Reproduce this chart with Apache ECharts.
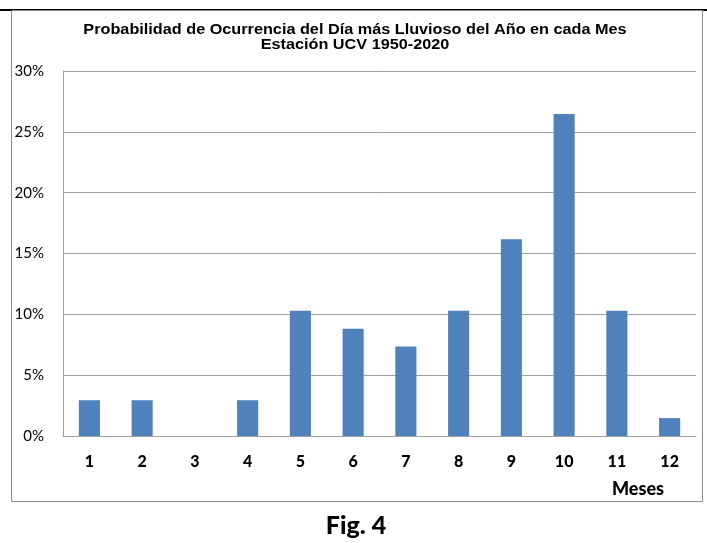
<!DOCTYPE html>
<html>
<head>
<meta charset="utf-8">
<script src="https://cdn.jsdelivr.net/npm/echarts@6/dist/echarts.min.js"></script>
<style>
  html, body { margin: 0; padding: 0; background: #fff; }
  #main { width: 707px; height: 543px; }
</style>
</head>
<body>
<div id="main"></div>
<script>
// datos: meses y probabilidad (%)
var meses = ['1', '2', '3', '4', '5', '6', '7', '8', '9', '10', '11', '12']
var probabilidad = [2.94, 2.94, 0, 2.94, 10.29, 8.82, 7.35, 10.29, 16.18, 26.47, 10.29, 1.47]
var titulo = 'Probabilidad de Ocurrencia del Día más Lluvioso del Año en cada Mes\nEstación UCV 1950-2020'

var myChart = echarts.init(document.getElementById('main'))

var option = {
  animation: false,
  backgroundColor: '#fff',
  grid: {
    left: 63,
    top: 71,
    right: 11,
    bottom: 107
  },
  xAxis: {
    type: 'category',
    data: meses,
    axisLine: { lineStyle: { color: '#a0a0a0', width: 1 } },
    axisTick: { show: false },
    axisLabel: {
      margin: 18,
      fontFamily: 'Lato',
      fontSize: 16,
      fontWeight: 900,
      color: '#000'
    }
  },
  yAxis: {
    type: 'value',
    min: 0,
    max: 30,
    interval: 5,
    axisLine: { show: true, lineStyle: { color: '#a0a0a0', width: 1 } },
    axisTick: { show: false },
    splitLine: { lineStyle: { color: '#a0a0a0', width: 1 } },
    axisLabel: {
      margin: 19,
      formatter: '{value}%',
      fontFamily: 'Lato',
      fontSize: 15,
      color: '#000'
    }
  },
  series: [{
    type: 'bar',
    data: probabilidad,
    barCategoryGap: '60%',
    itemStyle: { color: '#4f81bd' }
  }],
  graphic: [
    // linea negra superior
    { type: 'rect', shape: { x: 0, y: 9, width: 707, height: 2 }, style: { fill: '#000' } },
    // marco del grafico
    { type: 'rect', shape: { x: 11.5, y: 10.5, width: 691, height: 491 }, style: { fill: null, stroke: '#8c8c8c', lineWidth: 1 } },
    // titulo (texto algo ensanchado como en la figura original)
    {
      type: 'group',
      x: 355,
      y: 23,
      scaleX: 1.16,
      children: [{
        type: 'text',
        style: {
          x: 0,
          y: 0,
          text: titulo,
          align: 'center',
          verticalAlign: 'top',
          fontFamily: 'Liberation Sans',
          fontSize: 14,
          fontWeight: 'bold',
          lineHeight: 15,
          fill: '#000'
        }
      }]
    },
    { type: 'text', style: { x: 638, y: 489, text: 'Meses', align: 'center', verticalAlign: 'middle', fontFamily: 'Lato', fontSize: 18, fontWeight: 900, fill: '#000' } },
    { type: 'text', style: { x: 356, y: 526, text: 'Fig. 4', align: 'center', verticalAlign: 'middle', fontFamily: 'Lato', fontSize: 25, fontWeight: 900, fill: '#000' } }
  ]
}

myChart.setOption(option)
</script>
</body>
</html>
